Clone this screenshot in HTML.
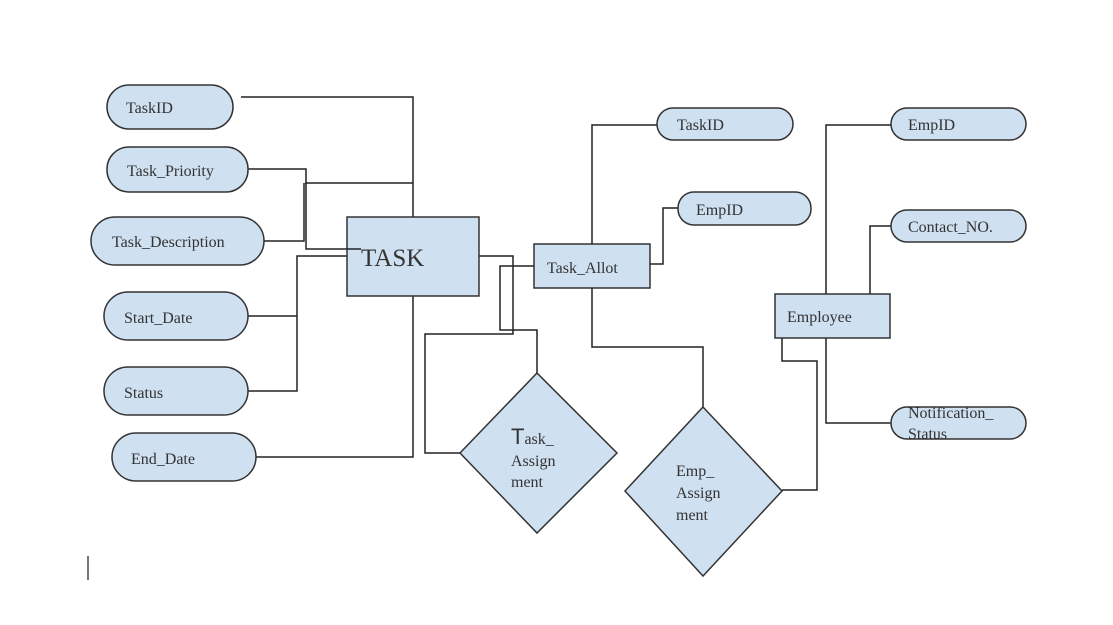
<!DOCTYPE html>
<html><head><style>
html,body{margin:0;padding:0;background:#fff;}
svg{display:block;}
text{font-family:"Liberation Serif",serif;fill:#333;}
</style></head><body>
<svg width="1113" height="625" viewBox="0 0 1113 625" xmlns="http://www.w3.org/2000/svg">
<g fill="none" stroke="#222" stroke-width="1.5">
<polyline points="241,97 413,97 413,217"/>
<polyline points="305,183 413,183"/>
<polyline points="248,169 306,169 306,249 360,249"/>
<polyline points="264,241 304,241 304,183"/>
<polyline points="248,316 297,316"/>
<polyline points="248,391 297,391 297,256 347,256"/>
<polyline points="413,296 413,457 256,457"/>
<polyline points="479,256 513,256 513,334 425,334 425,453 460,453"/>
<polyline points="534,266 500,266 500,330 537,330 537,373"/>
<polyline points="592,244 592,125 657,125"/>
<polyline points="650,264 663,264 663,208 678,208"/>
<polyline points="592,288 592,347 703,347 703,407"/>
<polyline points="782,490 817,490 817,361 782,361 782,338"/>
<polyline points="826,294 826,125 891,125"/>
<polyline points="870,294 870,226 891,226"/>
<polyline points="826,338 826,423 891,423"/>
</g>
<g fill="#cfe0f1" stroke="#333" stroke-width="1.5">
<rect x="107" y="85" width="126" height="44" rx="22"/>
<rect x="107" y="147" width="141" height="45" rx="22"/>
<rect x="91" y="217" width="173" height="48" rx="24"/>
<rect x="104" y="292" width="144" height="48" rx="24"/>
<rect x="104" y="367" width="144" height="48" rx="24"/>
<rect x="112" y="433" width="144" height="48" rx="24"/>
<rect x="347" y="217" width="132" height="79"/>
<rect x="534" y="244" width="116" height="44"/>
<rect x="657" y="108" width="136" height="32" rx="16"/>
<rect x="678" y="192" width="133" height="33" rx="16"/>
<rect x="775" y="294" width="115" height="44"/>
<rect x="891" y="108" width="135" height="32" rx="16"/>
<rect x="891" y="210" width="135" height="32" rx="16"/>
<rect x="891" y="407" width="135" height="32" rx="16"/>
<polygon points="537,373 617,453 537,533 460,453"/>
<polygon points="703,407 782,491 703,576 625,491"/>
</g>
<line x1="361" y1="249" x2="347" y2="249" stroke="#222" stroke-width="1.5"/>
<g font-size="16">
<text x="126" y="113">TaskID</text>
<text x="127" y="176">Task_Priority</text>
<text x="112" y="247">Task_Description</text>
<text x="124" y="323">Start_Date</text>
<text x="124" y="398">Status</text>
<text x="131" y="464">End_Date</text>
<text x="547" y="273">Task_Allot</text>
<text x="677" y="130">TaskID</text>
<text x="696" y="215">EmpID</text>
<text x="908" y="130">EmpID</text>
<text x="908" y="232">Contact_NO.</text>
<text x="787" y="322">Employee</text>
<text x="908" y="418">Notification_</text>
<text x="908" y="439">Status</text>
<text x="511" y="466">Assign</text>
<text x="511" y="487">ment</text>
<text x="676" y="476">Emp_</text>
<text x="676" y="498">Assign</text>
<text x="676" y="520">ment</text>
</g>
<text x="361" y="266" font-size="25">TASK</text>
<text x="511" y="444" font-size="16"><tspan font-family="Liberation Sans, sans-serif" font-size="22">T</tspan>ask_</text>
<line x1="88" y1="556" x2="88" y2="580" stroke="#777" stroke-width="2"/>
</svg>
</body></html>
